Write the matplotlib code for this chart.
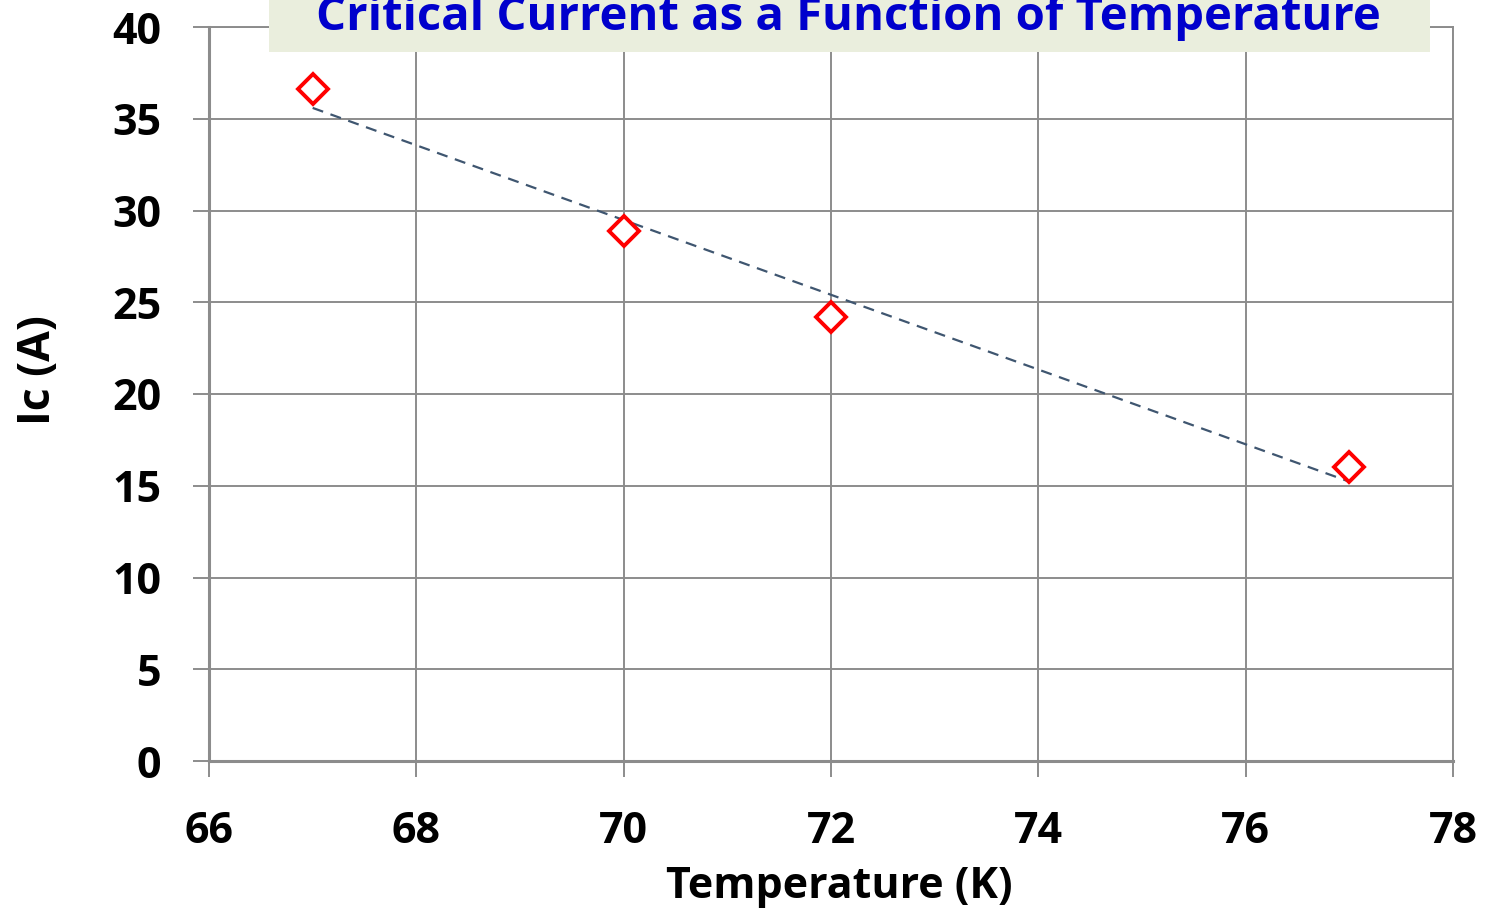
import numpy as np
import matplotlib
matplotlib.use('Agg')
import matplotlib.pyplot as plt
from matplotlib.patches import Rectangle

# data
temperature = [67, 70, 72, 77]
ic = [36.6, 28.9, 24.2, 16.0]
xticks = [66, 68, 70, 72, 74, 76, 78]
yticks = [0, 5, 10, 15, 20, 25, 30, 35, 40]

font = ['Open Sans', 'DejaVu Sans']
grey = '#8c8c8c'

fig = plt.figure(figsize=(14.85, 9.11), dpi=100)
ax = fig.add_axes([209/1485, 1 - 761/911, (1453 - 209)/1485, (761 - 27)/911])

# linear trend line from the points
k, b = np.polyfit(temperature, ic, 1)
tx = np.array([temperature[0], temperature[-1]])
ax.plot(tx, k*tx + b, ls=(0, (5, 3.5)), color='#3f5670', lw=1.6, zorder=3)

ax.plot(temperature, ic, ls='none', marker='D', ms=15, mfc='white',
        mec='#ff0000', mew=2.8, zorder=4)

ax.set_xlim(66, 78)
ax.set_ylim(0, 40)
ax.set_xticks(xticks)
ax.set_yticks(yticks)
ax.grid(True, color=grey, lw=1.4)
ax.set_axisbelow(True)
for s in ax.spines.values():
    s.set_color(grey)
    s.set_linewidth(1.4)
ax.spines['left'].set_linewidth(2.2)
ax.spines['bottom'].set_linewidth(2.2)
ax.tick_params(axis='both', direction='out', length=11.5, width=1.4, color=grey,
               labelsize=31)
ax.tick_params(axis='y', pad=23)
ax.tick_params(axis='x', pad=24)
for lab in ax.get_xticklabels() + ax.get_yticklabels():
    lab.set_family(font)
    lab.set_fontweight('bold')

ax.set_xlabel('Temperature (K)', family=font, fontweight='bold', fontsize=31)
ax.set_ylabel('Ic (A)', family=font, fontweight='bold', fontsize=32)
ax.xaxis.set_label_coords(0.507, -0.142)
ax.yaxis.set_label_coords(-0.119, 0.533)

# title box at the top, partly cut off
fig.patches.append(Rectangle((269/1485, 1 - 52/911), (1430 - 269)/1485, 60/911,
                             transform=fig.transFigure, facecolor='#eaeedd',
                             edgecolor='none', zorder=5))
fig.text(848/1485, 1 - 30/911, 'Critical Current as a Function of Temperature',
         ha='center', va='baseline', color='#0000cc', fontsize=34,
         fontweight='bold', family=['Liberation Sans Narrow', 'Open Sans', 'DejaVu Sans'],
         zorder=6)

fig.savefig('out.png', dpi=100)
